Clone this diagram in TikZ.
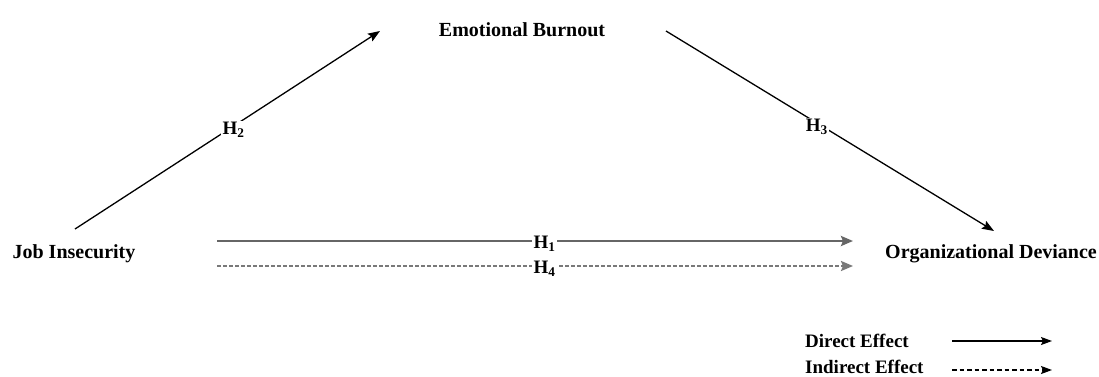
\documentclass[tikz,border=0pt]{standalone}
\usepackage{fontspec}
\setmainfont{Liberation Serif}
\usetikzlibrary{arrows.meta}
\begin{document}
\begin{tikzpicture}[x=1pt,y=-1pt,
  lbl/.style={font=\fontsize{20}{24}\selectfont\bfseries, inner sep=0pt, anchor=base},
  leg/.style={font=\fontsize{19}{22}\selectfont\bfseries, inner sep=0pt, anchor=base west},
  hyp/.style={font=\fontsize{19}{20}\selectfont\bfseries, fill=white, inner sep=1.5pt},
  arr/.style={draw=black, line width=1.3pt, -{Stealth[length=12pt,width=9pt,inset=2pt]}},
  garr/.style={draw=gray!80!black, line width=2.6pt, -{Stealth[length=12pt,width=10pt,inset=2pt]}},
  gdash/.style={draw=gray!95!black, line width=2.2pt, dash pattern=on 3.5pt off 2.5pt, -{Stealth[length=12pt,width=10pt,inset=2pt]}},
  legarr/.style={draw=black, line width=1.2pt, -{Stealth[length=11pt,width=8pt,inset=2pt]}},
  legdash/.style={draw=black, line width=1.2pt, dash pattern=on 4.5pt off 3pt, -{Stealth[length=11pt,width=8pt,inset=2pt]}}
]
\useasboundingbox (0,0) rectangle (1099,376);

% main nodes
\node[lbl] (ji) at (74,258) {Job Insecurity};
\node[lbl] (eb) at (522,36) {Emotional Burnout};
\node[lbl] (od) at (991,258) {Organizational Deviance};

% connector end points
\coordinate (h2s) at (75,229);
\coordinate (h2e) at (380,31);
\coordinate (h3s) at (666,31);
\coordinate (h3e) at (994,231);
\coordinate (h1s) at (217,241);
\coordinate (h1e) at (853,241);
\coordinate (h4s) at (217,266);
\coordinate (h4e) at (853,266);

\draw[arr] (h2s) -- node[hyp, pos=0.52, yshift=-4pt] (h2) {H\textsubscript{2}} (h2e);
\draw[arr] (h3s) -- node[hyp, pos=0.46, yshift=-4pt] (h3) {H\textsubscript{3}} (h3e);
\draw[garr] (h1s) -- node[hyp, pos=0.515, yshift=-3pt] (h1) {H\textsubscript{1}} (h1e);
\draw[gdash] (h4s) -- node[hyp, pos=0.515, yshift=-3pt] (h4) {H\textsubscript{4}} (h4e);

% legend
\node[leg] (de) at (805,347) {Direct Effect};
\node[leg] (ie) at (805,373) {Indirect Effect};
\coordinate (l1s) at (952,341);
\coordinate (l1e) at (1052,341);
\coordinate (l2s) at (952,370);
\coordinate (l2e) at (1052,370);
\draw[legarr] (l1s) -- (l1e);
\draw[legdash] (l2s) -- (l2e);
\end{tikzpicture}
\end{document}
